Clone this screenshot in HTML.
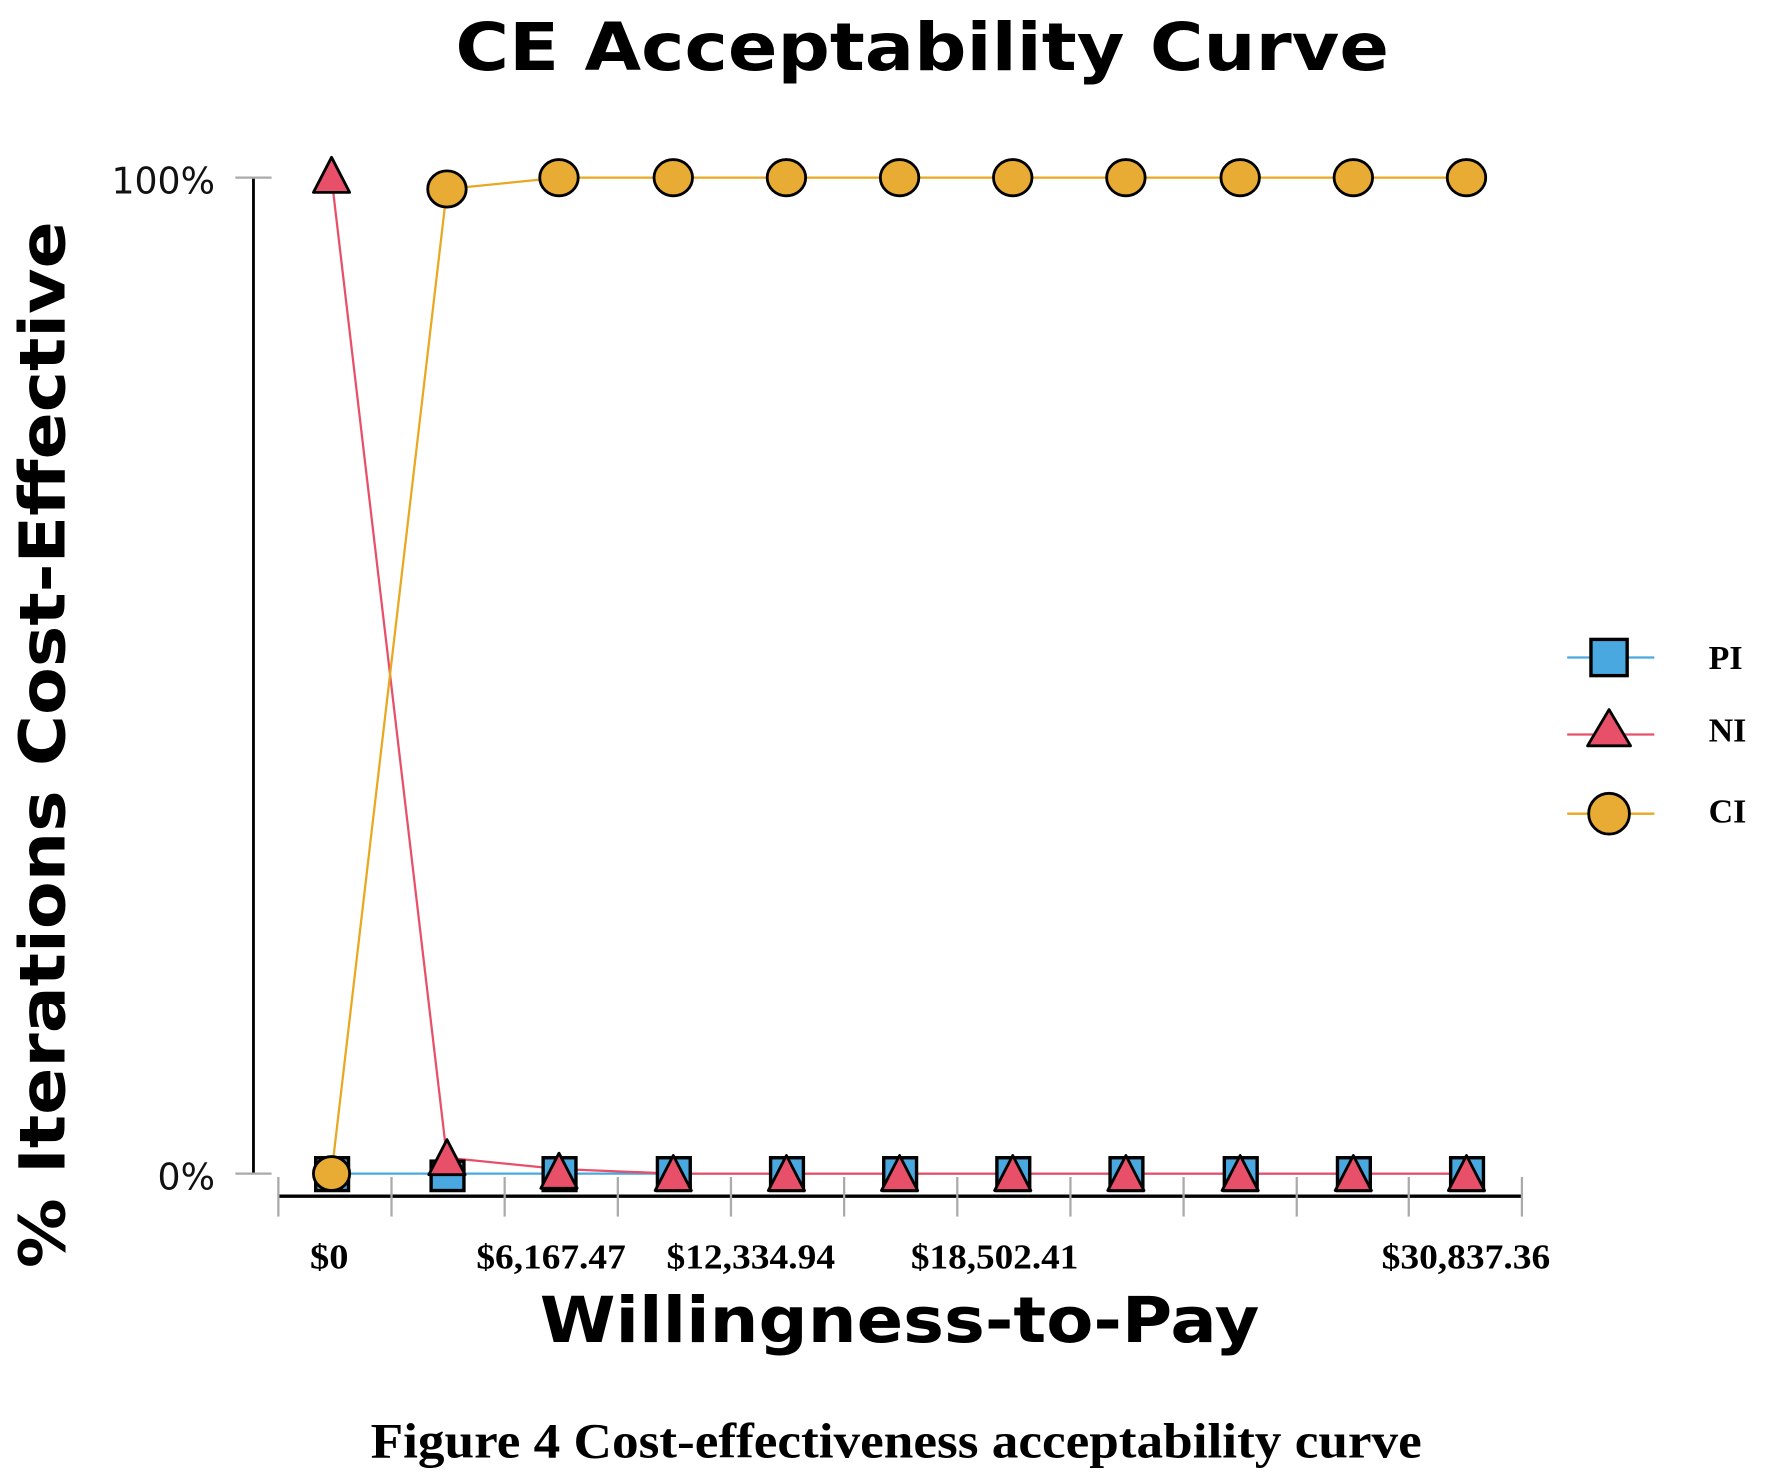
<!DOCTYPE html>
<html><head><meta charset="utf-8"><style>html,body{margin:0;padding:0;background:#fff}svg{display:block}</style></head>
<body>
<svg width="1772" height="1478" viewBox="0 0 1566 1306" preserveAspectRatio="none" xmlns="http://www.w3.org/2000/svg">
<rect width="1566" height="1306" fill="#fff"/>
<text x="815" y="62" text-anchor="middle" font-family="DejaVu Sans, sans-serif" font-weight="bold" font-size="58" textLength="825" lengthAdjust="spacingAndGlyphs">CE Acceptability Curve</text>
<text transform="translate(57,658) rotate(-90)" text-anchor="middle" font-family="DejaVu Sans, sans-serif" font-weight="bold" font-size="56" textLength="925" lengthAdjust="spacingAndGlyphs">% Iterations Cost-Effective</text>
<text x="795" y="1186" text-anchor="middle" font-family="DejaVu Sans, sans-serif" font-weight="bold" font-size="56" textLength="636" lengthAdjust="spacingAndGlyphs">Willingness-to-Pay</text>
<text x="792" y="1288" text-anchor="middle" font-family="Liberation Serif, serif" font-weight="bold" font-size="44" textLength="929" lengthAdjust="spacingAndGlyphs">Figure 4 Cost-effectiveness acceptability curve</text>
<!-- y axis -->
<line x1="224" y1="157" x2="224" y2="1037" stroke="#000" stroke-width="2.5"/>
<line x1="208" y1="157" x2="240" y2="157" stroke="#aaa" stroke-width="2"/>
<line x1="208" y1="1037" x2="240" y2="1037" stroke="#aaa" stroke-width="2"/>
<text x="190" y="171" text-anchor="end" font-family="DejaVu Sans, sans-serif" font-size="32" fill="#111">100%</text>
<text x="190" y="1051" text-anchor="end" font-family="DejaVu Sans, sans-serif" font-size="32" fill="#111">0%</text>
<!-- x axis -->
<line x1="246" y1="1057" x2="1345" y2="1057" stroke="#000" stroke-width="3"/>
<g stroke="#aaa" stroke-width="2">
<line x1="246" y1="1040" x2="246" y2="1075"/><line x1="346" y1="1040" x2="346" y2="1075"/><line x1="446" y1="1040" x2="446" y2="1075"/><line x1="546" y1="1040" x2="546" y2="1075"/><line x1="646" y1="1040" x2="646" y2="1075"/><line x1="746" y1="1040" x2="746" y2="1075"/><line x1="846" y1="1040" x2="846" y2="1075"/><line x1="946" y1="1040" x2="946" y2="1075"/><line x1="1046" y1="1040" x2="1046" y2="1075"/><line x1="1146" y1="1040" x2="1146" y2="1075"/><line x1="1245" y1="1040" x2="1245" y2="1075"/><line x1="1345" y1="1040" x2="1345" y2="1075"/>
</g>
<g font-family="Liberation Serif, serif" font-weight="bold" font-size="31">
<text x="274" y="1121" textLength="34" lengthAdjust="spacingAndGlyphs">$0</text><text x="421" y="1121" textLength="132" lengthAdjust="spacingAndGlyphs">$6,167.47</text><text x="589" y="1121" textLength="149" lengthAdjust="spacingAndGlyphs">$12,334.94</text><text x="805" y="1121" textLength="148" lengthAdjust="spacingAndGlyphs">$18,502.41</text><text x="1221" y="1121" textLength="149" lengthAdjust="spacingAndGlyphs">$30,837.36</text>
</g>
<!-- lines -->
<polyline fill="none" stroke="#4aa8e0" stroke-width="2" points="293,1037 395,1037 494,1037 595,1037 695,1037 795,1037 895,1037 995,1037 1096,1037 1196,1037 1296,1037"/>
<polyline fill="none" stroke="#e8506a" stroke-width="2" points="293,157 395,1023 494,1033 595,1037 695,1037 795,1037 895,1037 995,1037 1096,1037 1196,1037 1296,1037"/>
<polyline fill="none" stroke="#e8a820" stroke-width="2" points="293,1037 395,167 494,157 595,157 695,157 795,157 895,157 995,157 1096,157 1196,157 1296,157"/>
<!-- PI squares -->
<g fill="#4aa8e0" stroke="#000" stroke-width="3">
<rect x="279" y="1023" width="29" height="29"/><rect x="381" y="1026" width="29" height="26"/><rect x="480" y="1023" width="29" height="29"/><rect x="581" y="1023" width="29" height="29"/><rect x="681" y="1023" width="29" height="29"/><rect x="781" y="1023" width="29" height="29"/><rect x="881" y="1023" width="29" height="29"/><rect x="981" y="1023" width="29" height="29"/><rect x="1082" y="1023" width="29" height="29"/><rect x="1182" y="1023" width="29" height="29"/><rect x="1282" y="1023" width="29" height="29"/>
</g>
<!-- NI triangles -->
<g fill="#e8506a" stroke="#000" stroke-width="2.5" stroke-linejoin="round">
<polygon points="293,139 277,170 309,170"/>
<polygon points="395,1007 379,1038 411,1038"/>
<polygon points="494,1019 478,1050 510,1050"/>
<polygon points="595,1021 579,1052 611,1052"/>
<polygon points="695,1021 679,1052 711,1052"/>
<polygon points="795,1021 779,1052 811,1052"/>
<polygon points="895,1021 879,1052 911,1052"/>
<polygon points="995,1021 979,1052 1011,1052"/>
<polygon points="1096,1021 1080,1052 1112,1052"/>
<polygon points="1196,1021 1180,1052 1212,1052"/>
<polygon points="1296,1021 1280,1052 1312,1052"/>
</g>
<!-- CI circles -->
<g fill="#e8ac35" stroke="#000" stroke-width="2.5">
<ellipse cx="293" cy="1037" rx="16" ry="15"/>
<ellipse cx="395" cy="167" rx="17" ry="16"/>
<ellipse cx="494" cy="157" rx="17" ry="16"/><ellipse cx="595" cy="157" rx="17" ry="16"/><ellipse cx="695" cy="157" rx="17" ry="16"/><ellipse cx="795" cy="157" rx="17" ry="16"/><ellipse cx="895" cy="157" rx="17" ry="16"/><ellipse cx="995" cy="157" rx="17" ry="16"/><ellipse cx="1096" cy="157" rx="17" ry="16"/><ellipse cx="1196" cy="157" rx="17" ry="16"/><ellipse cx="1296" cy="157" rx="17" ry="16"/>
</g>
<!-- legend -->
<line x1="1385" y1="581" x2="1462" y2="581" stroke="#4aa8e0" stroke-width="2"/>
<rect x="1406" y="565" width="32" height="32" fill="#4aa8e0" stroke="#000" stroke-width="3"/>
<line x1="1385" y1="649" x2="1462" y2="649" stroke="#e8506a" stroke-width="2"/>
<polygon points="1422,627 1403,659 1441,659" fill="#e8506a" stroke="#000" stroke-width="2.5" stroke-linejoin="round"/>
<line x1="1385" y1="719" x2="1462" y2="719" stroke="#e8a820" stroke-width="2"/>
<ellipse cx="1422" cy="719" rx="18" ry="18" fill="#e8ac35" stroke="#000" stroke-width="2.5"/>
<g font-family="Liberation Serif, serif" font-weight="bold" font-size="30">
<text x="1510" y="591">PI</text><text x="1510" y="655">NI</text><text x="1510" y="727">CI</text>
</g>
</svg>
</body></html>
